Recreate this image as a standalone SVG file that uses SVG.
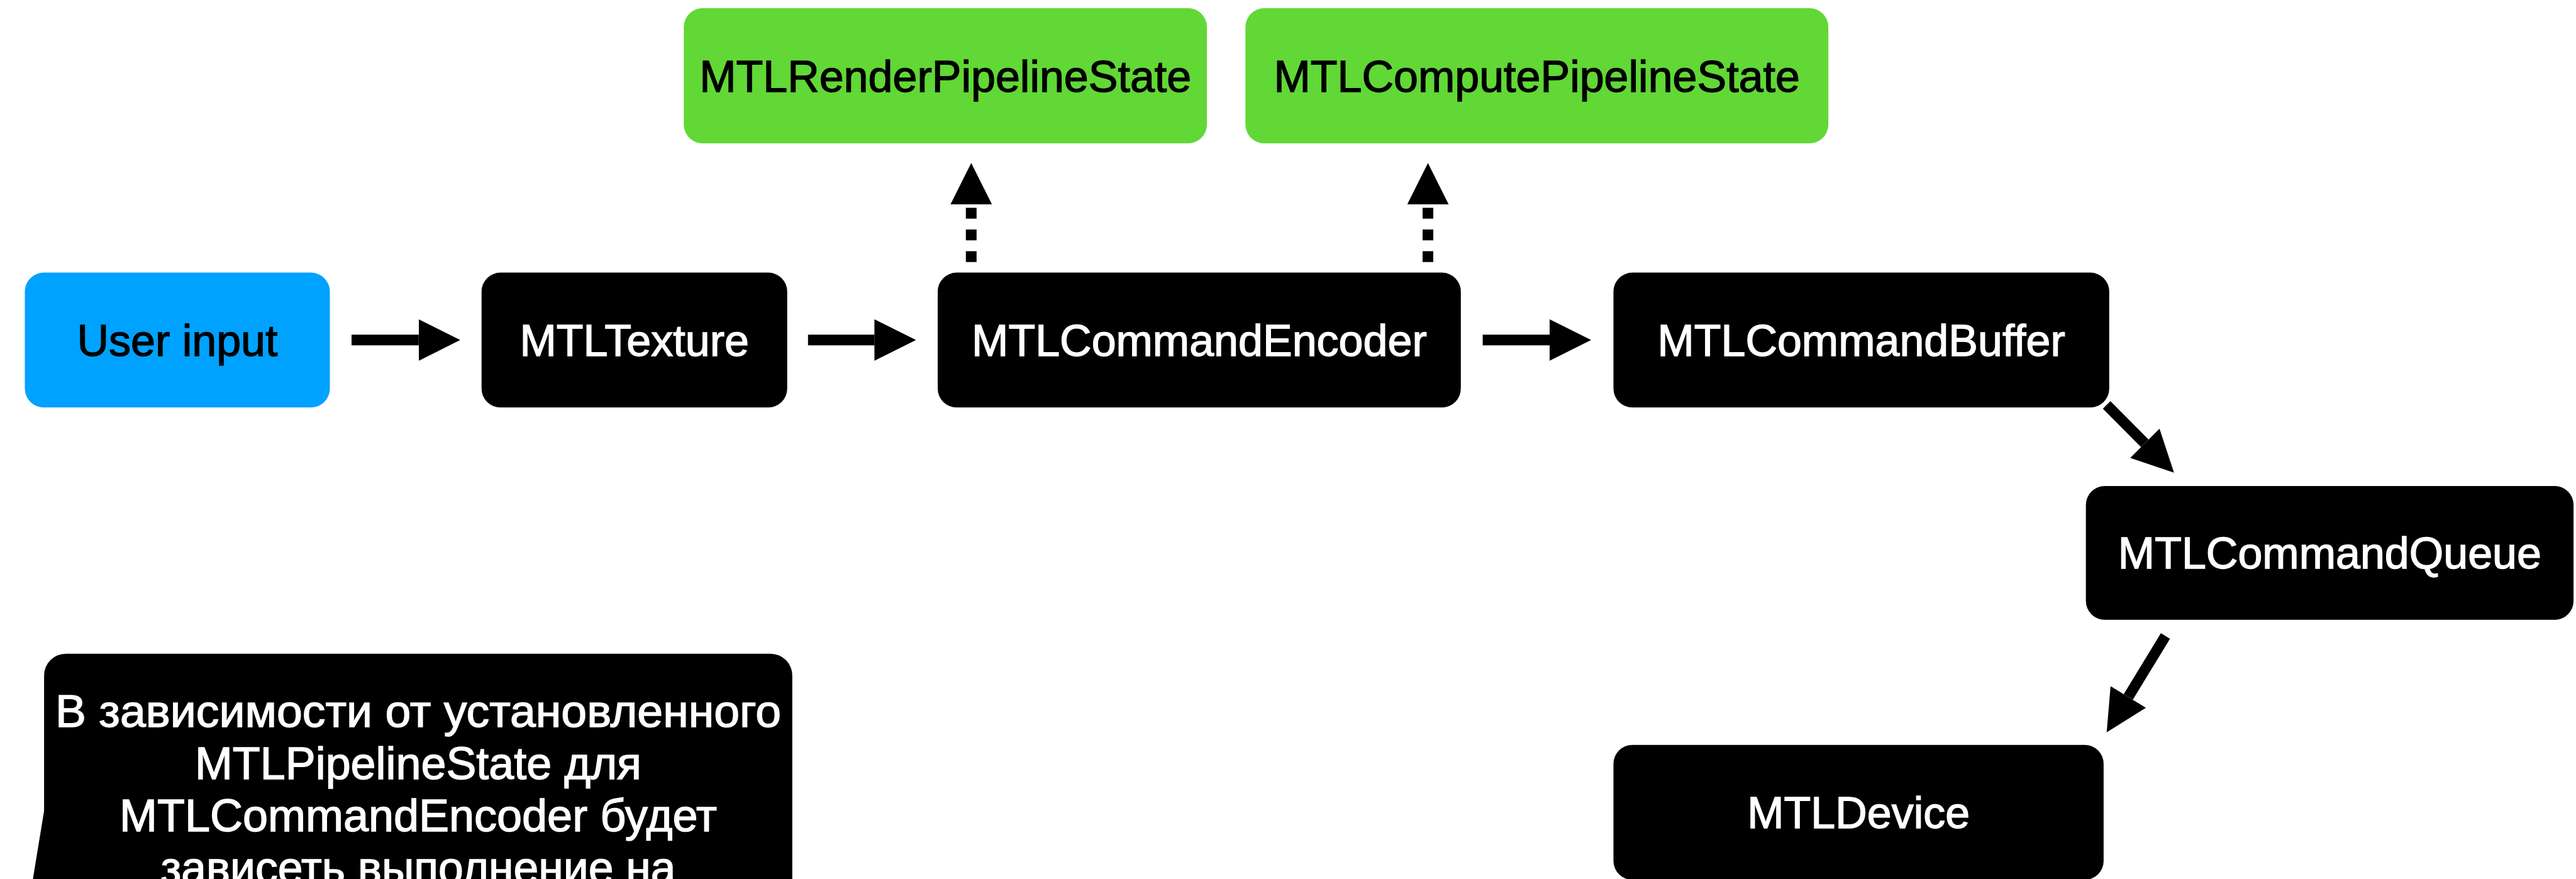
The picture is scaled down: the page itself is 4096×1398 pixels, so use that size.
<svg xmlns="http://www.w3.org/2000/svg" width="4096" height="1398" viewBox="0 0 4096 1398">
<style>
.lbl{font-family:"Liberation Sans",Arial,Helvetica,sans-serif;font-size:70px;text-anchor:middle;stroke-width:1.4px}
.cal{font-size:71.5px}
.w{fill:#ffffff;stroke:#ffffff}
.b{fill:#000000;stroke:#000000}
.dark{fill:#000000}
.blue{fill:#00A2FF}
.green{fill:#61D836}
.conn{stroke:#000000;stroke-width:17;fill:none;stroke-linecap:butt}
.dash{stroke-dasharray:17.3 17.2}
</style>
<defs>
<marker id="ah" viewBox="0 0 66 66" markerWidth="66" markerHeight="66" refX="0" refY="33" orient="auto" markerUnits="userSpaceOnUse">
<path d="M0,0 L66,33 L0,66 Z" fill="#000000"/>
</marker>
</defs>
<rect width="4096" height="1398" fill="#ffffff"/>
<g id="connectors">
<line class="conn" x1="559" y1="540.8" x2="665.8" y2="540.8" marker-end="url(#ah)"/>
<line class="conn" x1="1284.8" y1="540.8" x2="1390.4" y2="540.8" marker-end="url(#ah)"/>
<line class="conn" x1="2357.6" y1="540.8" x2="2464" y2="540.8" marker-end="url(#ah)"/>
<line class="conn dash" x1="1544.3" y1="416.7" x2="1544.3" y2="325.2" marker-end="url(#ah)"/>
<line class="conn dash" x1="2270.5" y1="416.7" x2="2270.5" y2="325.2" marker-end="url(#ah)"/>
<line class="conn" x1="3349.7" y1="644" x2="3410.3" y2="705" marker-end="url(#ah)"/>
<line class="conn" x1="3443.2" y1="1011.5" x2="3384.1" y2="1108.4" marker-end="url(#ah)"/>
</g>
<g id="node-user-input">
<rect class="blue" x="39.5" y="433.6" width="485" height="214.4" rx="30"/>
<text class="lbl b" x="282" y="565.8">User input</text>
</g>
<g id="node-mtltexture">
<rect class="dark" x="765.7" y="433.6" width="486" height="214.4" rx="30"/>
<text class="lbl w" x="1008.7" y="565.8">MTLTexture</text>
</g>
<g id="node-mtlcommandencoder">
<rect class="dark" x="1491" y="433.6" width="831.8" height="214.4" rx="30"/>
<text class="lbl w" x="1906.9" y="565.8">MTLCommandEncoder</text>
</g>
<g id="node-mtlcommandbuffer">
<rect class="dark" x="2565.5" y="433.6" width="788.3" height="214.4" rx="30"/>
<text class="lbl w" x="2959.6" y="565.8">MTLCommandBuffer</text>
</g>
<g id="node-mtlrenderpipelinestate">
<rect class="green" x="1087.3" y="12.9" width="831.8" height="215.2" rx="30"/>
<text class="lbl b" x="1503.2" y="145.5">MTLRenderPipelineState</text>
</g>
<g id="node-mtlcomputepipelinestate">
<rect class="green" x="1980.3" y="12.9" width="926.9" height="215.2" rx="30"/>
<text class="lbl b" x="2443.7" y="145.5">MTLComputePipelineState</text>
</g>
<g id="node-mtlcommandqueue">
<rect class="dark" x="3316.7" y="773" width="775.4" height="212.8" rx="30"/>
<text class="lbl w" x="3704.4" y="904.4">MTLCommandQueue</text>
</g>
<g id="node-mtldevice">
<rect class="dark" x="2565.5" y="1184.8" width="779.4" height="214.4" rx="30"/>
<text class="lbl w" x="2955.2" y="1317">MTLDevice</text>
</g>
<g id="node-callout">
<path class="dark" d="M104.8,1039.7 H1225.1 A34.7,34.7 0 0 1 1259.8,1074.4 V1430 H47.1 L70.1,1289.6 V1074.4 A34.7,34.7 0 0 1 104.8,1039.7 Z"/>
<text class="lbl cal w" x="665" y="1155.8" textLength="1154" lengthAdjust="spacingAndGlyphs">В зависимости от установленного</text>
<text class="lbl cal w" x="665" y="1238.8" textLength="710" lengthAdjust="spacingAndGlyphs">MTLPipelineState для</text>
<text class="lbl cal w" x="665" y="1321.8" textLength="950" lengthAdjust="spacingAndGlyphs">MTLCommandEncoder будет</text>
<text class="lbl cal w" x="665" y="1404.9">зависеть выполнение на</text>
</g>
</svg>
